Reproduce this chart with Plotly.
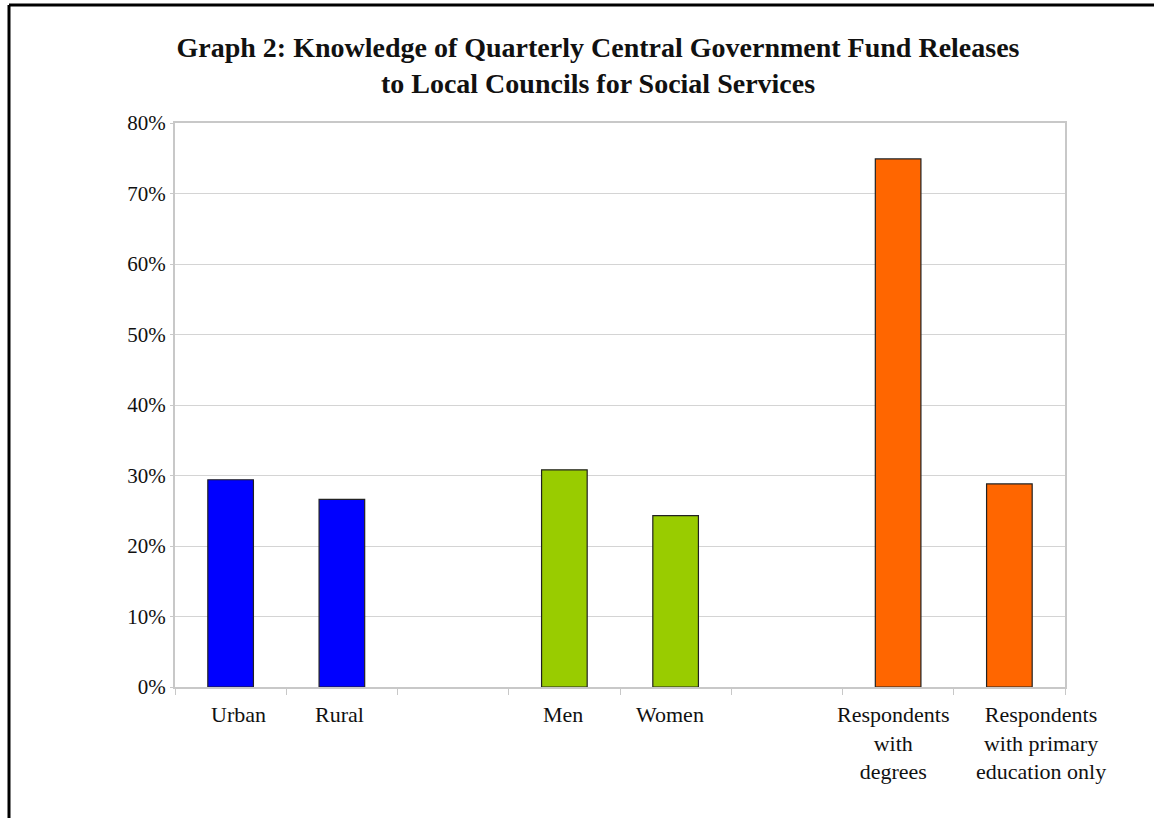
import plotly.graph_objects as go

categories = ["Urban", "Rural", "", "Men", "Women", "",
              "Respondents<br>with<br>degrees",
              "Respondents<br>with primary<br>education only"]
values = [29.4, 26.6, None, 30.8, 24.3, None, 74.9, 28.8]
bar_colors = ["#0000FF", "#0000FF", "#FFFFFF", "#99CC00", "#99CC00", "#FFFFFF",
              "#FF6600", "#FF6600"]
label_shift = [8, -2, 0, -1, -6, 0, -5, 32]
y_ticks = [0, 10, 20, 30, 40, 50, 60, 70, 80]
y_tick_labels = [f"{v}%" for v in y_ticks]

positions = list(range(len(categories)))

fig = go.Figure()
fig.add_trace(go.Bar(
    x=positions, y=values,
    marker=dict(color=bar_colors, line=dict(color="#222222", width=1.2)),
    width=0.41, showlegend=False, hoverinfo="skip",
))

for p, lab, sh in zip(positions, categories, label_shift):
    if lab:
        fig.add_annotation(
            x=p, y=0, xref="x", yref="y", text=lab, showarrow=False,
            xanchor="center", yanchor="top", align="center",
            xshift=sh, yshift=-13,
            font=dict(family="Liberation Serif", size=22, color="#111111"),
        )

W, H = 1154, 818
L, R, T, B = 175, 1065, 123, 687

fig.update_layout(
    width=W, height=H,
    margin=dict(l=L, r=W - R, t=T, b=H - B, pad=0, autoexpand=False),
    paper_bgcolor="white", plot_bgcolor="white",
    font=dict(family="Liberation Serif", color="#111111"),
    title=dict(
        text="<b>Graph 2: Knowledge of Quarterly Central Government Fund Releases<br>to Local Councils for Social Services</b>",
        x=598 / W, xref="container", xanchor="center",
        y=1 - 57 / H, yref="container", yanchor="middle",
        font=dict(family="Liberation Serif", size=28, color="#111111"),
    ),
    xaxis=dict(
        range=[-0.5, len(categories) - 0.5],
        tickvals=positions, showticklabels=False,
        automargin=False,
        ticks="", showgrid=False, zeroline=False,
        showline=True, linecolor="#c8c8c8", linewidth=2, mirror=True,
        minor=dict(tickvals=[p - 0.5 for p in positions] + [len(categories) - 0.5],
                   ticks="outside", ticklen=6, tickcolor="#c8c8c8", tickwidth=1,
                   showgrid=False),
    ),
    yaxis=dict(
        range=[0, 80], tickvals=y_ticks, ticktext=y_tick_labels,
        ticks="outside", ticklen=3, tickcolor="#c8c8c8", automargin=False,
        showgrid=True, gridcolor="#d4d4d4", gridwidth=1,
        zeroline=False,
        showline=True, linecolor="#c8c8c8", linewidth=2, mirror=True,
        tickfont=dict(size=21, color="#111111"),
    ),
    shapes=[
        dict(type="line", xref="paper", yref="paper",
             x0=-(L - 9) / (R - L), x1=(W - L) / (R - L) + 0.01,
             y0=1 + (T - 5) / (B - T), y1=1 + (T - 5) / (B - T),
             line=dict(color="black", width=3)),
        dict(type="line", xref="paper", yref="paper",
             x0=-(L - 9) / (R - L), x1=-(L - 9) / (R - L),
             y0=1 + (T - 5) / (B - T), y1=-(H - B) / (B - T) - 0.01,
             line=dict(color="black", width=3)),
    ],
)

fig.write_html("out.html")
